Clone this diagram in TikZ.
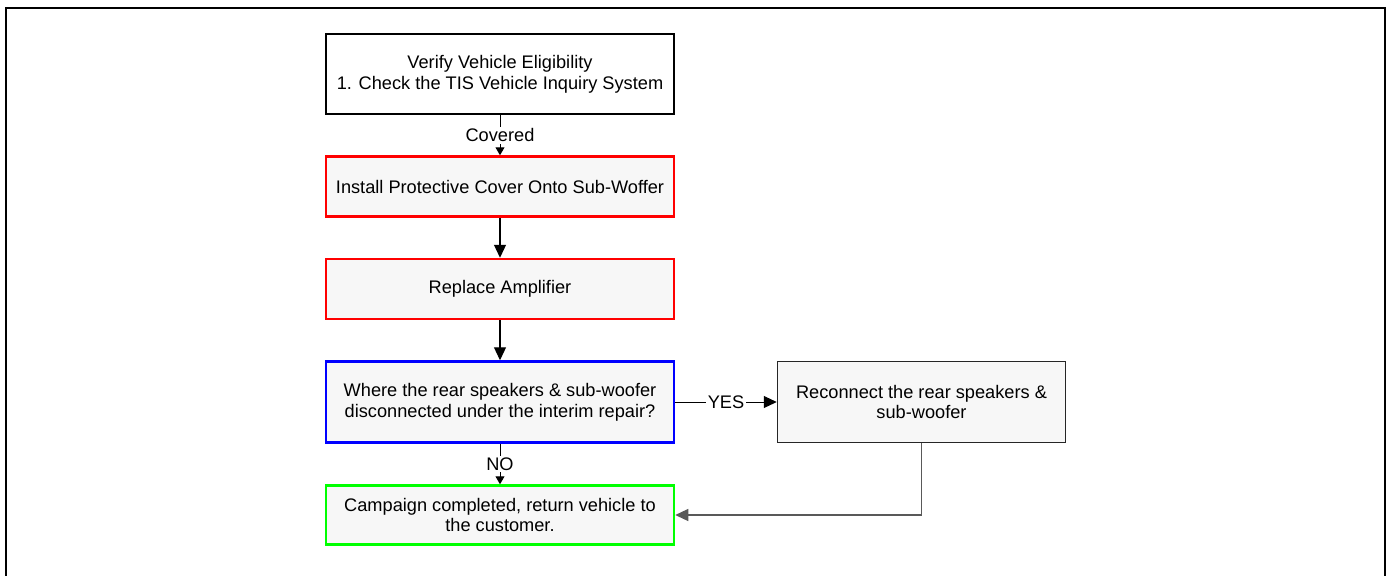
\documentclass[tikz,border=0pt]{standalone}
\usepackage{fontspec}
\setmainfont{Liberation Sans}
\usetikzlibrary{%
	arrows.meta,%
	positioning
}
\definecolor{boxgray}{rgb}{0.97, 0.97, 0.97}
\definecolor{linegray}{rgb}{0.35, 0.35, 0.35}

\begin{document}
\begin{tikzpicture}[x=0.5pt,y=-0.5pt,
	font=\fontsize{9.1}{10.4}\selectfont,
	box/.style={draw,line width=1.25pt,fill=boxgray,align=center,
		minimum width=174pt,minimum height=30pt,inner sep=0pt},
	bigtip/.style={-{Triangle[length=6.5pt,width=6pt]}},
	smalltip/.style={-{Triangle[length=4pt,width=4.5pt]}},
	lbl/.style={fill=white,inner sep=1pt}
	]
	\useasboundingbox (0,0) rectangle (1392,575);
	% Frame, open at the bottom
	\draw[line width=1.2pt] (6,590) -- (6,8) -- (1385,8) -- (1385,590);

	% Boxes
	\node[box,fill=white,minimum height=40pt] (verify) at (500,74)
		{Verify Vehicle Eligibility\\1. Check the TIS Vehicle Inquiry System};
	\node[box,draw=red] (cover) at (500,186.5)
		{Install Protective Cover Onto Sub-Woffer};
	\node[box,draw=red] (amp) at (500,289)
		{Replace Amplifier};
	\node[box,draw=blue,minimum height=40.5pt] (where) at (500,402)
		{Where the rear speakers \& sub-woofer\\
		 disconnected under the interim repair?};
	\node[box,draw=green,minimum height=29.5pt] (done) at (500,515)
		{Campaign completed, return vehicle to\\the customer.};
	\node[box,draw=black!85,line width=0.75pt,minimum width=144pt,minimum height=40.5pt]
		(recon) at (921.5,402)
		{Reconnect the rear speakers \&\\sub-woofer};

	% Arrows
	\draw[smalltip,line width=0.5pt] (verify) -- node[lbl]{Covered} (cover);
	\draw[bigtip,line width=0.6pt] (cover) -- (amp);
	\draw[bigtip,line width=0.6pt] (amp) -- (where);
	\draw[smalltip,line width=0.5pt] (where) -- node[lbl]{NO} (done);
	\draw[bigtip,line width=0.5pt] (where) -- node[lbl]{YES} (recon);
	\draw[bigtip,linegray,line width=0.6pt] (recon.south) |- (done.east);
\end{tikzpicture}
\end{document}
